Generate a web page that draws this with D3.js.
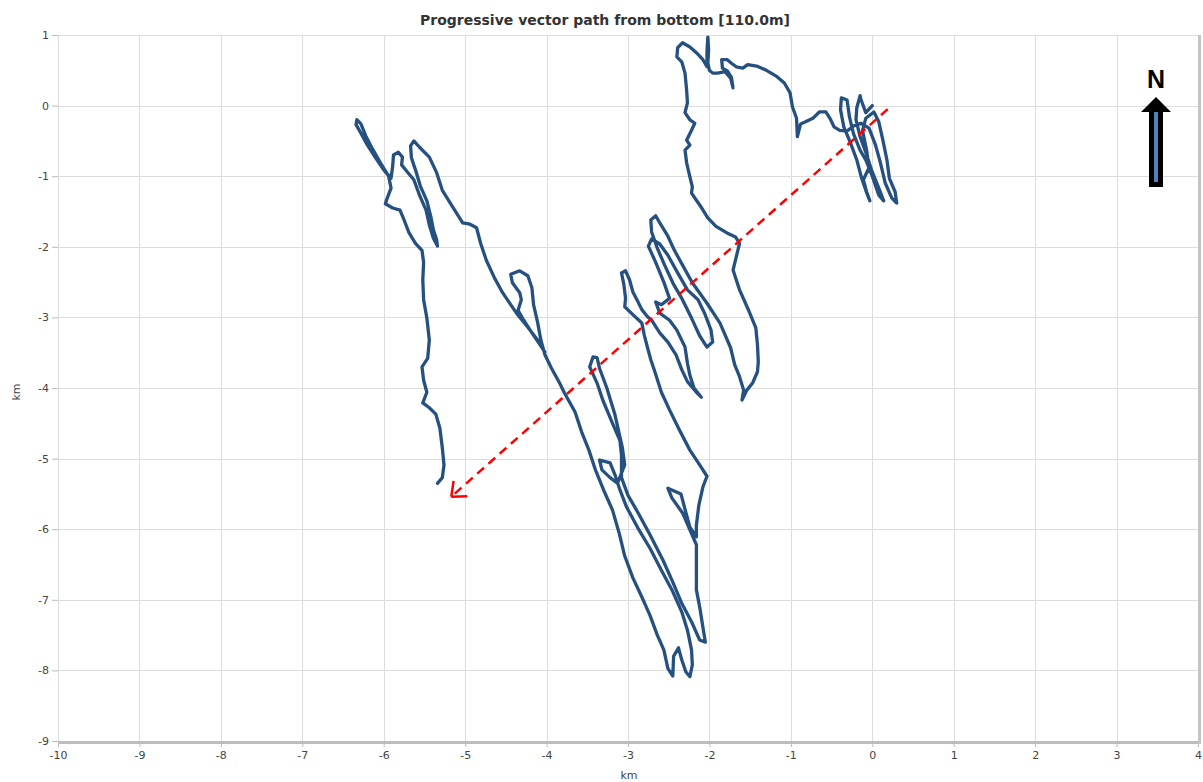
<!DOCTYPE html>
<html>
<head>
<meta charset="utf-8">
<script src="https://cdn.jsdelivr.net/npm/d3@7"></script>
<style>
  body { margin: 0; background: #fff; }
  svg text { font-family: "DejaVu Sans", Verdana, sans-serif; }
</style>
</head>
<body>
<div id="chart"></div>
<script>
/* tick values (km) */
var xTicks = [-10, -9, -8, -7, -6, -5, -4, -3, -2, -1, 0, 1, 2, 3, 4];
var yTicks = [-9, -8, -7, -6, -5, -4, -3, -2, -1, 0, 1];

/* progressive vector track, [east km, north km], split in legs */
var legStart = [[0,0],[-0.08,-0.10],[-0.14,0.09],[-0.15,0.14],[-0.19,-0.03],[-0.20,-0.20],[-0.15,-0.44],[-0.08,-0.66],[-0.01,-0.91],[0.08,-1.17],[0.14,-1.35],[0.08,-1.27],[0.00,-1.00],[-0.08,-0.77],[-0.15,-0.63],[-0.23,-0.40],[-0.28,-0.16],[-0.31,0.08],[-0.38,0.11],[-0.39,-0.06],[-0.35,-0.30],[-0.27,-0.52],[-0.19,-0.77],[-0.13,-1.03],[-0.08,-1.20],[-0.03,-1.35],[-0.07,-1.22],[-0.11,-1.05],[-0.04,-0.88],[-0.07,-0.63],[-0.12,-0.35],[-0.08,-0.18],[0.02,-0.09],[0.08,-0.23],[0.13,-0.49],[0.18,-0.77],[0.21,-1.03],[0.28,-1.22],[0.30,-1.38],[0.24,-1.31],[0.16,-1.10],[0.10,-0.81],[0.04,-0.56],[-0.04,-0.32],[-0.14,-0.25],[-0.23,-0.29],[-0.31,-0.36],[-0.40,-0.35],[-0.47,-0.30],[-0.52,-0.18],[-0.57,-0.09],[-0.65,-0.09],[-0.73,-0.18],[-0.82,-0.23],[-0.88,-0.26],[-0.92,-0.44],[-0.93,-0.18],[-0.98,-0.02]];
var legNorth = [[-1.01,0.18],[-1.08,0.32],[-1.17,0.41],[-1.30,0.50],[-1.42,0.56],[-1.53,0.58],[-1.59,0.53],[-1.67,0.55],[-1.73,0.60],[-1.78,0.65],[-1.85,0.65],[-1.84,0.53],[-1.78,0.49],[-1.73,0.40],[-1.71,0.25],[-1.74,0.39],[-1.81,0.48],[-1.90,0.46],[-1.96,0.46],[-2.00,0.50],[-2.02,0.60],[-2.01,0.79],[-2.02,0.97],[-2.03,0.76],[-2.03,0.55],[-2.08,0.65],[-2.16,0.75],[-2.24,0.83],[-2.33,0.89],[-2.39,0.82],[-2.40,0.69],[-2.34,0.62],[-2.30,0.46],[-2.28,0.22],[-2.27,0.04],[-2.30,-0.10],[-2.24,-0.20],[-2.18,-0.25],[-2.22,-0.35],[-2.28,-0.49],[-2.24,-0.56],[-2.30,-0.63],[-2.28,-0.81],[-2.24,-1.01],[-2.21,-1.15],[-2.22,-1.24],[-2.16,-1.34],[-2.10,-1.44]];
var legStrips = [[-2.02,-1.59],[-1.92,-1.71],[-1.79,-1.80],[-1.68,-1.86],[-1.63,-1.95],[-1.67,-2.14],[-1.71,-2.33],[-1.63,-2.61],[-1.53,-2.87],[-1.43,-3.15],[-1.41,-3.39],[-1.40,-3.63],[-1.41,-3.77],[-1.47,-3.93],[-1.54,-4.03],[-1.60,-4.17],[-1.58,-4.03],[-1.63,-3.84],[-1.69,-3.67],[-1.74,-3.43],[-1.87,-3.08],[-2.03,-2.80],[-2.21,-2.51],[-2.33,-2.26],[-2.43,-2.05],[-2.51,-1.85],[-2.60,-1.68],[-2.66,-1.56],[-2.72,-1.62],[-2.71,-1.79],[-2.64,-2.02],[-2.55,-2.26],[-2.45,-2.51],[-2.34,-2.73],[-2.22,-3.01],[-2.12,-3.26],[-2.03,-3.42],[-1.96,-3.35],[-1.98,-3.18],[-2.06,-2.94],[-2.14,-2.75],[-2.27,-2.61],[-2.39,-2.37],[-2.51,-2.12],[-2.61,-1.96],[-2.71,-1.89],[-2.75,-1.99],[-2.66,-2.22],[-2.56,-2.50],[-2.49,-2.73],[-2.59,-2.82],[-2.66,-2.78],[-2.61,-2.94],[-2.49,-3.04],[-2.40,-3.18],[-2.30,-3.42],[-2.27,-3.65],[-2.24,-3.82],[-2.19,-4.00],[-2.10,-4.13],[-2.16,-4.06],[-2.27,-3.91],[-2.34,-3.74],[-2.41,-3.53],[-2.51,-3.35],[-2.61,-3.22],[-2.71,-3.04],[-2.76,-2.99],[-2.83,-2.89],[-2.89,-2.75],[-2.94,-2.64],[-2.98,-2.47],[-3.03,-2.34],[-3.08,-2.37],[-3.05,-2.54],[-3.03,-2.73],[-3.04,-2.85],[-2.95,-2.95],[-2.83,-3.08],[-2.80,-3.25],[-2.76,-3.43],[-2.72,-3.60],[-2.67,-3.77],[-2.59,-4.06],[-2.49,-4.31],[-2.37,-4.59],[-2.24,-4.88],[-2.12,-5.09],[-2.03,-5.25]];
var legSouth = [[-2.08,-5.40],[-2.13,-5.66],[-2.16,-5.94],[-2.16,-6.11],[-2.24,-5.97],[-2.29,-5.76],[-2.35,-5.50],[-2.51,-5.42],[-2.46,-5.56],[-2.33,-5.77],[-2.24,-6.01],[-2.16,-6.22],[-2.16,-6.54],[-2.16,-6.86],[-2.12,-7.10],[-2.08,-7.39],[-2.05,-7.60],[-2.12,-7.57],[-2.22,-7.31],[-2.34,-7.05],[-2.45,-6.75],[-2.57,-6.44],[-2.73,-6.08],[-2.88,-5.76],[-3.00,-5.52],[-3.08,-5.27],[-3.08,-4.95],[-3.10,-4.74],[-3.19,-4.50],[-3.31,-4.17],[-3.38,-3.93],[-3.47,-3.70],[-3.43,-3.56],[-3.38,-3.57],[-3.35,-3.72],[-3.26,-4.00],[-3.16,-4.38],[-3.07,-4.84],[-3.04,-5.09],[-3.13,-5.35],[-3.22,-5.27],[-3.32,-5.16],[-3.35,-5.02],[-3.22,-5.06],[-3.16,-5.23],[-3.10,-5.44],[-3.02,-5.68],[-2.88,-5.98],[-2.73,-6.27],[-2.59,-6.58],[-2.46,-6.86],[-2.34,-7.17],[-2.27,-7.43],[-2.22,-7.71],[-2.21,-7.92],[-2.24,-8.09],[-2.29,-8.02],[-2.34,-7.85],[-2.38,-7.68],[-2.44,-7.80],[-2.45,-8.08],[-2.51,-7.97],[-2.56,-7.71],[-2.64,-7.50],[-2.73,-7.22],[-2.83,-6.96],[-2.94,-6.69],[-3.04,-6.38],[-3.11,-6.05],[-3.19,-5.73],[-3.29,-5.47],[-3.40,-5.16],[-3.48,-4.88],[-3.57,-4.62],[-3.65,-4.34],[-3.78,-4.07],[-3.84,-3.93]];
var legWest = [[-3.94,-3.72],[-4.02,-3.53],[-4.07,-3.32],[-4.11,-3.07],[-4.16,-2.82],[-4.18,-2.58],[-4.23,-2.41],[-4.33,-2.34],[-4.44,-2.39],[-4.42,-2.51],[-4.33,-2.65],[-4.31,-2.75],[-4.35,-2.90],[-4.28,-3.04],[-4.18,-3.22],[-4.08,-3.39],[-4.02,-3.49],[-4.11,-3.32],[-4.23,-3.14],[-4.37,-2.94],[-4.54,-2.65],[-4.64,-2.44],[-4.74,-2.19],[-4.81,-1.95],[-4.86,-1.73],[-4.94,-1.68],[-5.03,-1.66],[-5.15,-1.44],[-5.28,-1.20],[-5.35,-0.95],[-5.44,-0.73],[-5.56,-0.59],[-5.63,-0.50],[-5.67,-0.57],[-5.66,-0.74],[-5.61,-0.91],[-5.55,-1.14],[-5.47,-1.35],[-5.42,-1.58],[-5.39,-1.76],[-5.35,-1.90],[-5.34,-1.99],[-5.39,-1.88],[-5.44,-1.69],[-5.48,-1.48],[-5.56,-1.27],[-5.63,-1.05],[-5.71,-0.94],[-5.78,-0.84],[-5.77,-0.73],[-5.82,-0.66],[-5.88,-0.70],[-5.89,-0.86],[-5.91,-1.03],[-6.00,-0.91],[-6.10,-0.74],[-6.20,-0.56],[-6.28,-0.39],[-6.34,-0.27],[-6.33,-0.20],[-6.28,-0.26],[-6.22,-0.43],[-6.14,-0.61],[-6.04,-0.81],[-5.94,-1.00],[-5.91,-1.17],[-5.96,-1.32],[-5.98,-1.39],[-5.89,-1.45],[-5.80,-1.48],[-5.75,-1.62],[-5.69,-1.80],[-5.61,-1.95],[-5.53,-2.05],[-5.51,-2.22],[-5.52,-2.47],[-5.51,-2.75],[-5.47,-3.01],[-5.44,-3.32],[-5.46,-3.58],[-5.53,-3.70],[-5.51,-3.89],[-5.47,-4.06],[-5.52,-4.21],[-5.44,-4.28],[-5.36,-4.37],[-5.31,-4.57],[-5.28,-4.85],[-5.26,-5.09],[-5.28,-5.27],[-5.34,-5.35]];

/* red mean-drift arrow: from, to (km) */
var driftFrom = [0.19, -0.05];
var driftTo = [-5.17, -5.54];

var track = legStart.concat(legNorth, legStrips, legSouth, legWest);

var margin = {top: 35, right: 5, bottom: 41, left: 58},
    width = 1203 - margin.left - margin.right,
    height = 782 - margin.top - margin.bottom;

var svg = d3.select("#chart")
  .append("svg")
    .attr("width", 1203)
    .attr("height", 782);

svg.append("text")
    .attr("x", 605)
    .attr("y", 25)
    .attr("text-anchor", "middle")
    .style("font-size", "14px")
    .style("font-weight", "bold")
    .style("fill", "#333")
    .text("Progressive vector path from bottom [110.0m]");

var g = svg.append("g")
    .attr("transform", "translate(" + margin.left + "," + margin.top + ")");

var x = d3.scaleLinear().domain([-10, 4]).range([0, width]);
var y = d3.scaleLinear().domain([-9, 1]).range([height, 0]);

/* grid */
g.selectAll(".vgrid").data(xTicks).enter().append("line")
    .attr("x1", function (d) { return Math.round(x(d)) + 0.5; })
    .attr("x2", function (d) { return Math.round(x(d)) + 0.5; })
    .attr("y1", 0).attr("y2", height)
    .style("stroke", "#dcdcdc");
g.selectAll(".hgrid").data(yTicks).enter().append("line")
    .attr("y1", function (d) { return Math.round(y(d)) + 0.5; })
    .attr("y2", function (d) { return Math.round(y(d)) + 0.5; })
    .attr("x1", 0).attr("x2", width)
    .style("stroke", "#dcdcdc");

/* frame: soft right/bottom shadow */
g.append("line").attr("x1", 0).attr("x2", width + 1).attr("y1", height + 1.5).attr("y2", height + 1.5)
    .style("stroke", "#bdbdbd").style("stroke-width", 3);
g.append("line").attr("x1", width + 1.5).attr("x2", width + 1.5).attr("y1", 0).attr("y2", height + 3)
    .style("stroke", "#c4c4c4").style("stroke-width", 3);

/* axes */
var yAxis = g.append("g")
    .call(d3.axisLeft(y).tickValues(yTicks).tickSize(6).tickPadding(3).tickFormat(d3.format("d")));
var xAxis = g.append("g")
    .attr("transform", "translate(0," + (height + 3) + ")")
    .call(d3.axisBottom(x).tickValues(xTicks).tickSize(3).tickPadding(4).tickFormat(d3.format("d")));
[yAxis, xAxis].forEach(function (a) {
  a.select(".domain").remove();
  a.selectAll(".tick line").style("stroke", "#bbb");
  a.selectAll(".tick text")
    .style("font-family", "'DejaVu Sans', Verdana, sans-serif")
    .style("font-size", "11px")
    .style("fill", "#444");
});
/* d3 uses a unicode minus; the original shows a hyphen */
g.selectAll(".tick text").text(function (d) { return String(d); });

svg.append("text")
    .attr("x", 629).attr("y", 779)
    .attr("text-anchor", "middle")
    .style("font-size", "11px").style("fill", "#444")
    .text("km");
svg.append("text")
    .attr("transform", "translate(20,392) rotate(-90)")
    .attr("text-anchor", "middle")
    .style("font-size", "11px").style("fill", "#444")
    .text("km");

/* track */
var line = d3.line()
    .x(function (d) { return x(d[0]); })
    .y(function (d) { return y(d[1]); });

g.append("path")
    .datum(track)
    .attr("d", line)
    .style("fill", "none")
    .style("stroke", "#25507f")
    .style("stroke-width", 3.3)
    .style("stroke-linejoin", "round")
    .style("stroke-linecap", "round");

/* red dashed drift arrow */
var x0 = x(driftFrom[0]), y0 = y(driftFrom[1]),
    x1 = x(driftTo[0]), y1 = y(driftTo[1]);
g.append("line")
    .attr("x1", x0).attr("y1", y0).attr("x2", x1).attr("y2", y1)
    .style("stroke", "#ff0000")
    .style("stroke-width", 2.5)
    .style("stroke-dasharray", "9,6");
var ang = Math.atan2(y0 - y1, x0 - x1), len = 16;
[-0.7, 0.7].forEach(function (da) {
  g.append("line")
      .attr("x1", x1).attr("y1", y1)
      .attr("x2", x1 + len * Math.cos(ang + da))
      .attr("y2", y1 + len * Math.sin(ang + da))
      .style("stroke", "#ff0000")
      .style("stroke-width", 2.5);
});

/* north arrow */
svg.append("text")
    .attr("x", 1156).attr("y", 88)
    .attr("text-anchor", "middle")
    .style("font-family", "'Liberation Sans', Arial, sans-serif")
    .style("font-size", "25px")
    .style("font-weight", "bold")
    .style("fill", "#000")
    .text("N");
svg.append("path")
    .attr("d", "M1156,97 L1171,112 L1163,112 L1163,187 L1149,187 L1149,112 L1141,112 Z")
    .style("fill", "#000");
svg.append("rect")
    .attr("x", 1154).attr("y", 112).attr("width", 4).attr("height", 70)
    .style("fill", "#4f81bd");
</script>
</body>
</html>
